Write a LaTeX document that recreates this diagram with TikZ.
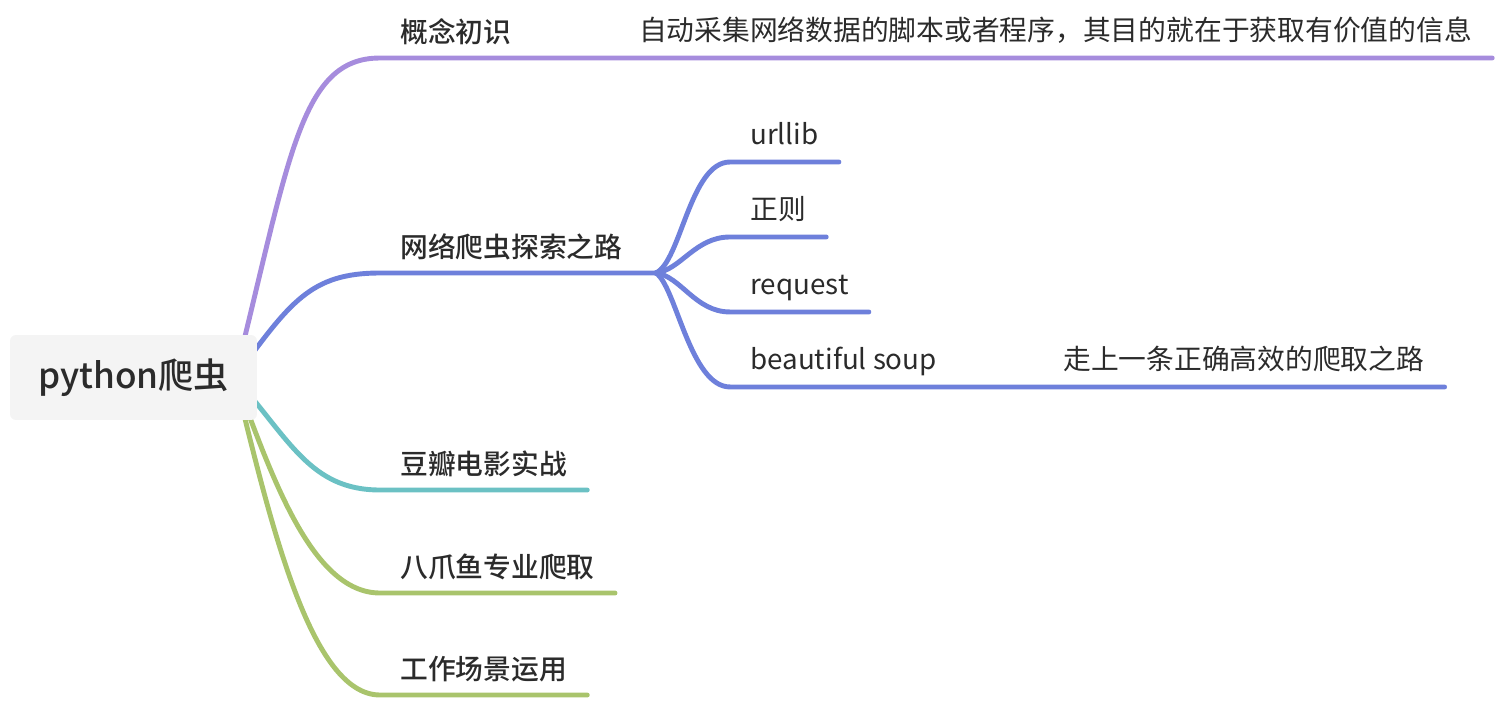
\documentclass[tikz,border=0pt]{standalone}
\usepackage{fontspec}
\setmainfont{Noto Sans CJK SC}[BoldFont={Noto Sans CJK SC Medium}]
\usetikzlibrary{positioning, backgrounds}
\definecolor{introcolor}{HTML}{A68CDD}
\definecolor{explorecolor}{HTML}{6E80DB}
\definecolor{doubancolor}{HTML}{6BC1C4}
\definecolor{toolcolor}{HTML}{A9C46C}
\definecolor{rootfill}{HTML}{F4F4F4}
\definecolor{inkcolor}{HTML}{2B2B2B}

\begin{document}
\begin{tikzpicture}[x=0.02cm, y=-0.02cm,
  root/.style={rectangle, rounded corners=0.12cm, fill=rootfill, minimum width=4.94cm, minimum height=1.7cm, text=inkcolor, font=\fontsize{20}{24}\selectfont\bfseries},
  topic/.style={anchor=south west, inner xsep=0.4cm, inner ysep=0.3cm, text depth=0pt, text=inkcolor, font=\fontsize{15.8}{19}\selectfont\bfseries},
  leaf/.style={anchor=south west, inner xsep=0.4cm, inner ysep=0.34cm, text depth=0pt, text=inkcolor, font=\fontsize{15.8}{19}\selectfont},
  branch/.style={line width=2.8pt, line cap=round}]

  \useasboundingbox (0,0) rectangle (1500,700);

  % Root
  \node[root] (R) at (133.5,377.5) {python爬虫};
  \coordinate (R0) at ([xshift=-0.45cm]R.east);

  % Topics
  \node[topic] (T1) at (380,58) {概念初识};
  \node[leaf, right=1.74cm of T1.south east, anchor=south west] (D1) {自动采集网络数据的脚本或者程序，其目的就在于获取有价值的信息};
  \node[topic] (T2) at (380,273) {网络爬虫探索之路};
  \node[topic] (T3) at (380,490) {豆瓣电影实战};
  \node[topic] (T4) at (380,593) {八爪鱼专业爬取};
  \node[topic] (T5) at (380,695) {工作场景运用};

  % Sub topics
  \coordinate[right=0.26cm of T2.south east] (H);
  \node[leaf] (S1) at (730,162) {urllib};
  \node[leaf, below=1.5cm of S1.south west, anchor=south west] (S2) {正则};
  \node[leaf, below=1.5cm of S2.south west, anchor=south west] (S3) {request};
  \node[leaf, below=1.5cm of S3.south west, anchor=south west] (S4) {beautiful soup};
  \node[leaf] (D4) at (1043,387) {走上一条正确高效的爬取之路};

  % Connectors
  \begin{scope}[on background layer]
    \draw[branch, introcolor] (R0) .. controls +(55,-220) and +(-80,0) .. (T1.south west) -- (T1.south east) -- (D1.south west) -- (D1.south east);
    \draw[branch, explorecolor] (R0) .. controls +(55,-75) and +(-70,0) .. (T2.south west) -- (T2.south east) -- (H);
    \draw[branch, doubancolor] (R0) .. controls +(55,62) and +(-70,0) .. (T3.south west) -- (T3.south east);
    \draw[branch, toolcolor] (R0) .. controls +(35,92) and +(-70,0) .. (T4.south west) -- (T4.south east);
    \draw[branch, toolcolor] (R0) .. controls +(35,142) and +(-70,0) .. (T5.south west) -- (T5.south east);

    \draw[branch, explorecolor] (H) .. controls +(25,-11) and +(-40,0) .. (S1.south west) -- (S1.south east);
    \draw[branch, explorecolor] (H) .. controls +(25,-3) and +(-35,0) .. (S2.south west) -- (S2.south east);
    \draw[branch, explorecolor] (H) .. controls +(25,3) and +(-35,0) .. (S3.south west) -- (S3.south east);
    \draw[branch, explorecolor] (H) .. controls +(20,12) and +(-40,0) .. (S4.south west) -- (S4.south east) -- (D4.south west) -- (D4.south east);
  \end{scope}

\end{tikzpicture}
\end{document}
